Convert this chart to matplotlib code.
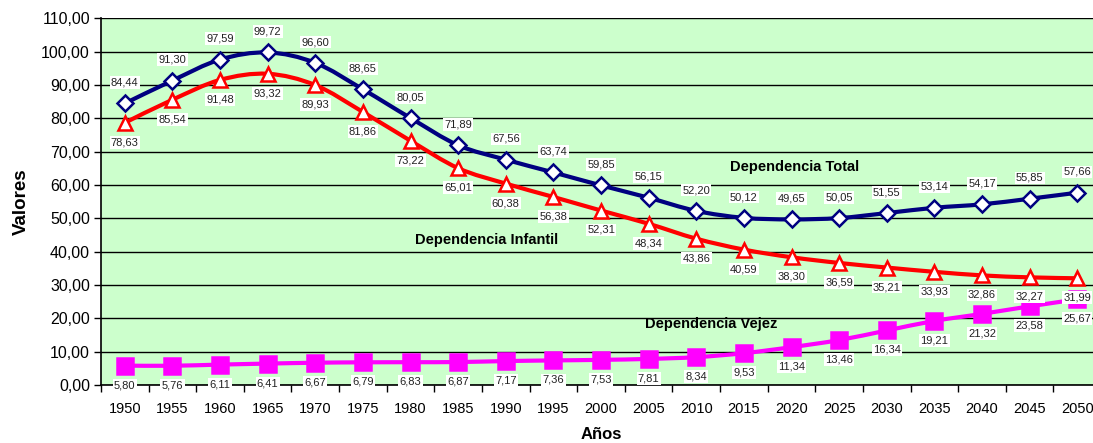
import numpy as np
import matplotlib.pyplot as plt
from matplotlib.path import Path
from matplotlib.patches import PathPatch

# ---- DATA ----
years = [1950, 1955, 1960, 1965, 1970, 1975, 1980, 1985, 1990, 1995, 2000,
         2005, 2010, 2015, 2020, 2025, 2030, 2035, 2040, 2045, 2050]
dep_total = [84.44, 91.30, 97.59, 99.72, 96.60, 88.65, 80.05, 71.89, 67.56, 63.74, 59.85,
             56.15, 52.20, 50.12, 49.65, 50.05, 51.55, 53.14, 54.17, 55.85, 57.66]
dep_infantil = [78.63, 85.54, 91.48, 93.32, 89.93, 81.86, 73.22, 65.01, 60.38, 56.38, 52.31,
                48.34, 43.86, 40.59, 38.30, 36.59, 35.21, 33.93, 32.86, 32.27, 31.99]
dep_vejez = [5.80, 5.76, 6.11, 6.41, 6.67, 6.79, 6.83, 6.87, 7.17, 7.36, 7.53,
             7.81, 8.34, 9.53, 11.34, 13.46, 16.34, 19.21, 21.32, 23.58, 25.67]

plt.rcParams['font.family'] = ['Liberation Sans', 'DejaVu Sans']


def smooth_path(xs, ys):
    # Excel-like smoothed line as cubic bezier segments
    pts = np.column_stack([xs, ys]).astype(float)
    n = len(pts)
    verts = [pts[0]]
    codes = [Path.MOVETO]
    for i in range(n - 1):
        p0 = pts[i - 1] if i > 0 else pts[i]
        p3 = pts[i + 2] if i + 2 < n else pts[i + 1]
        c1 = pts[i] + (pts[i + 1] - p0) / 6
        c2 = pts[i + 1] - (p3 - pts[i]) / 6
        verts += [c1, c2, pts[i + 1]]
        codes += [Path.CURVE4] * 3
    return Path(verts, codes)


def fmt(v):
    return f"{v:.2f}".replace(".", ",")


fig = plt.figure(figsize=(10.93, 4.43), dpi=100)
ax = fig.add_axes([0.0924, 0.131, 0.915, 0.828])
ax.set_facecolor("#CCFFCC")

x = np.arange(len(years))

series = [
    (dep_total, "#000080", "D", "white", 8, 15),
    (dep_infantil, "#FF0000", "^", "white", 10, -14),
    (dep_vejez, "#FF00FF", "s", "#FF00FF", 11, -14),
]

for vals, col, mk, fc, ms, off in series:
    ax.add_patch(PathPatch(smooth_path(x, vals), fill=False, edgecolor=col,
                           lw=3, zorder=3, capstyle="round", joinstyle="round"))
    ax.plot(x, vals, linestyle="none", marker=mk, markersize=ms,
            markerfacecolor=fc, markeredgecolor=col, markeredgewidth=1.8, zorder=4)
    for xi, v in zip(x, vals):
        ax.annotate(fmt(v), (xi, v), xytext=(0, off), textcoords="offset points",
                    ha="center", va="center", fontsize=8, color="#222222", zorder=6,
                    bbox=dict(boxstyle="square,pad=0.12", fc="white", ec="none"))

ax.text(14.06, 65.3, "Dependencia Total", ha="center", va="center",
        fontsize=10.5, fontweight="bold", zorder=7)
ax.text(7.6, 43.5, "Dependencia Infantil", ha="center", va="center",
        fontsize=10.5, fontweight="bold", zorder=7)
ax.text(12.32, 18.3, "Dependencia Vejez", ha="center", va="center",
        fontsize=10.5, fontweight="bold", zorder=7)

ax.set_xlim(-0.5, len(years) - 0.5)
ax.set_ylim(0, 110)
ax.set_yticks(np.arange(0, 111, 10))
ax.set_yticklabels([fmt(v) for v in np.arange(0, 111, 10)], fontsize=11.5)
ax.set_xticks(x)
ax.set_xticklabels([str(y) for y in years], fontsize=10.5)
ax.set_xticks(np.arange(-0.5, len(years), 1), minor=True)
ax.tick_params(axis="x", which="major", length=0, pad=12)
ax.tick_params(axis="x", which="minor", length=5, direction="out", width=1)
ax.tick_params(axis="y", length=5, direction="out", width=1, pad=3)
ax.grid(axis="y", color="black", linewidth=1, zorder=1)
ax.set_axisbelow(True)

for s in ["top", "right"]:
    ax.spines[s].set_visible(False)
ax.spines["left"].set_linewidth(1.2)
ax.spines["bottom"].set_linewidth(1.2)

ax.set_ylabel("Valores", fontsize=13.5, fontweight="bold", labelpad=8)
ax.set_xlabel("Años", fontsize=12, fontweight="bold", labelpad=8)

plt.savefig("out.png", dpi=100)
